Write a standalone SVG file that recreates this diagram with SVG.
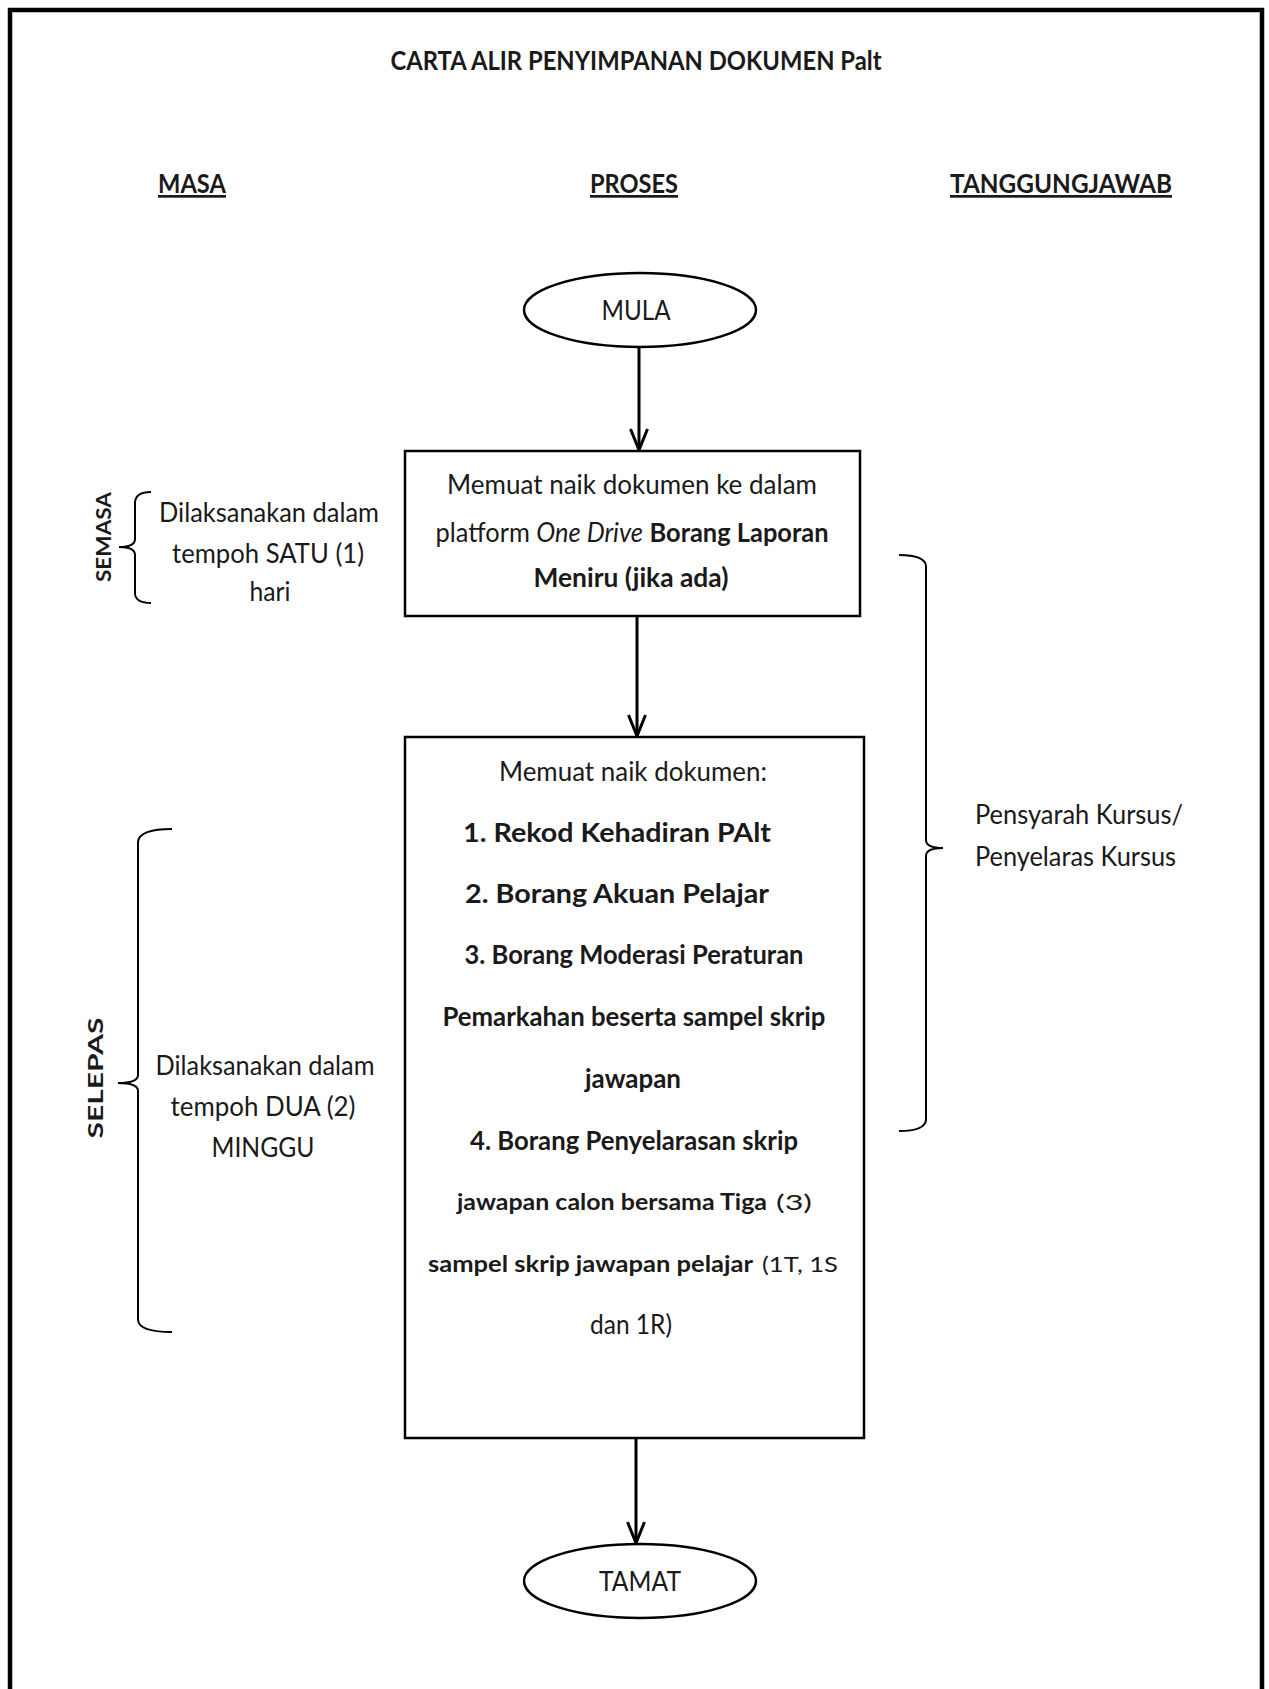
<svg xmlns="http://www.w3.org/2000/svg" width="1269" height="1689" viewBox="0 0 1269 1689">
<style>
  text { font-family: Lato, "Liberation Sans", sans-serif; font-size: 27px; fill: #1a1a1a; }
  .c { text-anchor: middle; }
  .b { font-weight: bold; }
  .i { font-style: italic; }
  .s { font-size: 22px; }
  .hd { font-weight: bold; text-decoration: underline; text-anchor: middle; }
  .shape { fill: #ffffff; stroke: #000000; stroke-width: 2.5; }
  .conn { fill: none; stroke: #000000; stroke-width: 3; marker-end: url(#arr); }
  .brace { fill: none; stroke: #000000; stroke-width: 2; }
</style>
<defs>
  <marker id="arr" viewBox="0 0 24 20" refX="23" refY="10" markerWidth="24" markerHeight="20" markerUnits="userSpaceOnUse" orient="auto">
    <path d="M1,1.5 L22,10 L1,18.5" fill="none" stroke="#000" stroke-width="3"/>
  </marker>
</defs>
<rect x="0" y="0" width="1269" height="1689" fill="#ffffff"/>
<path d="M10,1700 L10,10 L1262,10 L1262,1700" fill="none" stroke="#000" stroke-width="4.5"/>

<g id="title">
  <text x="636" y="70" class="c b" textLength="491" lengthAdjust="spacingAndGlyphs">CARTA ALIR PENYIMPANAN DOKUMEN Palt</text>
</g>
<g id="headers">
  <text x="192" y="193" class="hd" textLength="68" lengthAdjust="spacingAndGlyphs">MASA</text>
  <text x="634" y="193" class="hd" textLength="88" lengthAdjust="spacingAndGlyphs">PROSES</text>
  <text x="1061" y="193" class="hd" textLength="222" lengthAdjust="spacingAndGlyphs">TANGGUNGJAWAB</text>
</g>

<g id="connectors">
  <line class="conn" x1="639" y1="348" x2="639" y2="451"/>
  <line class="conn" x1="637" y1="616" x2="637" y2="737"/>
  <line class="conn" x1="636" y1="1438" x2="636" y2="1544"/>
</g>

<g id="mula">
  <ellipse class="shape" cx="640" cy="310" rx="116" ry="37"/>
  <text x="636" y="320" class="c" textLength="69" lengthAdjust="spacingAndGlyphs">MULA</text>
</g>

<g id="step1">
  <rect class="shape" x="405" y="451" width="455" height="165"/>
  <text x="632" y="494" class="c" textLength="370" lengthAdjust="spacingAndGlyphs">Memuat naik dokumen ke dalam</text>
  <text x="632" y="542" class="c" textLength="393" lengthAdjust="spacingAndGlyphs">platform <tspan class="i">One Drive</tspan> <tspan class="b">Borang Laporan</tspan></text>
  <text x="631" y="587" class="c b" textLength="195" lengthAdjust="spacingAndGlyphs">Meniru (jika ada)</text>
</g>

<g id="step2">
  <rect class="shape" x="405" y="737" width="459" height="701"/>
  <text x="633" y="781" class="c" textLength="268" lengthAdjust="spacingAndGlyphs">Memuat naik dokumen:</text>
  <text x="617" y="842" class="c b" textLength="308" lengthAdjust="spacingAndGlyphs">1. Rekod Kehadiran PAlt</text>
  <text x="617" y="903" class="c b" textLength="304" lengthAdjust="spacingAndGlyphs">2. Borang Akuan Pelajar</text>
  <text x="634" y="964" class="c b" textLength="339" lengthAdjust="spacingAndGlyphs">3. Borang Moderasi Peraturan</text>
  <text x="634" y="1026" class="c b" textLength="383" lengthAdjust="spacingAndGlyphs">Pemarkahan beserta sampel skrip</text>
  <text x="633" y="1088" class="c b" textLength="96" lengthAdjust="spacingAndGlyphs">jawapan</text>
  <text x="634" y="1150" class="c b" textLength="328" lengthAdjust="spacingAndGlyphs">4. Borang Penyelarasan skrip</text>
  <text x="457" y="1210" class="b s" textLength="310" lengthAdjust="spacingAndGlyphs">jawapan calon bersama Tiga</text>
  <text x="776" y="1210" class="s" textLength="36" lengthAdjust="spacingAndGlyphs">(3)</text>
  <text x="428" y="1272" class="b s" textLength="325" lengthAdjust="spacingAndGlyphs">sampel skrip jawapan pelajar</text>
  <text x="762" y="1272" class="s" textLength="76" lengthAdjust="spacingAndGlyphs">(1T, 1S</text>
  <text x="631" y="1334" class="c" textLength="82" lengthAdjust="spacingAndGlyphs">dan 1R)</text>
</g>

<g id="tamat">
  <ellipse class="shape" cx="640" cy="1581" rx="116" ry="37"/>
  <text x="640" y="1591" class="c" textLength="82" lengthAdjust="spacingAndGlyphs">TAMAT</text>
</g>

<g id="semasa">
  <text transform="translate(111,537) rotate(-90)" class="c b" style="font-size:21px" textLength="90" lengthAdjust="spacingAndGlyphs">SEMASA</text>
  <path class="brace" d="M151,492 Q136,492 135,502 L135,539 Q135,547 119,547 Q135,547 135,555 L135,594 Q136,603 151,603"/>
  <text x="269" y="522" class="c" textLength="220" lengthAdjust="spacingAndGlyphs">Dilaksanakan dalam</text>
  <text x="268" y="563" class="c" textLength="192" lengthAdjust="spacingAndGlyphs">tempoh SATU (1)</text>
  <text x="270" y="601" class="c" textLength="41" lengthAdjust="spacingAndGlyphs">hari</text>
</g>

<g id="selepas">
  <text transform="translate(103,1078) rotate(-90)" class="c b" style="font-size:21px" textLength="121" lengthAdjust="spacingAndGlyphs">SELEPAS</text>
  <path class="brace" d="M172,829 Q139,829 138,842 L138,1075 Q138,1083 118,1083 Q138,1083 138,1091 L138,1320 Q139,1332 172,1332"/>
  <text x="265" y="1075" class="c" textLength="219" lengthAdjust="spacingAndGlyphs">Dilaksanakan dalam</text>
  <text x="263" y="1116" class="c" textLength="185" lengthAdjust="spacingAndGlyphs">tempoh DUA (2)</text>
  <text x="263" y="1157" class="c" textLength="103" lengthAdjust="spacingAndGlyphs">MINGGU</text>
</g>

<g id="tanggungjawab">
  <path class="brace" d="M899,555 Q925,555 926,566 L926,840 Q926,848 943,848 Q926,848 926,856 L926,1120 Q925,1131 899,1131"/>
  <text x="975" y="824" textLength="208" lengthAdjust="spacingAndGlyphs">Pensyarah Kursus/</text>
  <text x="975" y="866" textLength="201" lengthAdjust="spacingAndGlyphs">Penyelaras Kursus</text>
</g>
</svg>
